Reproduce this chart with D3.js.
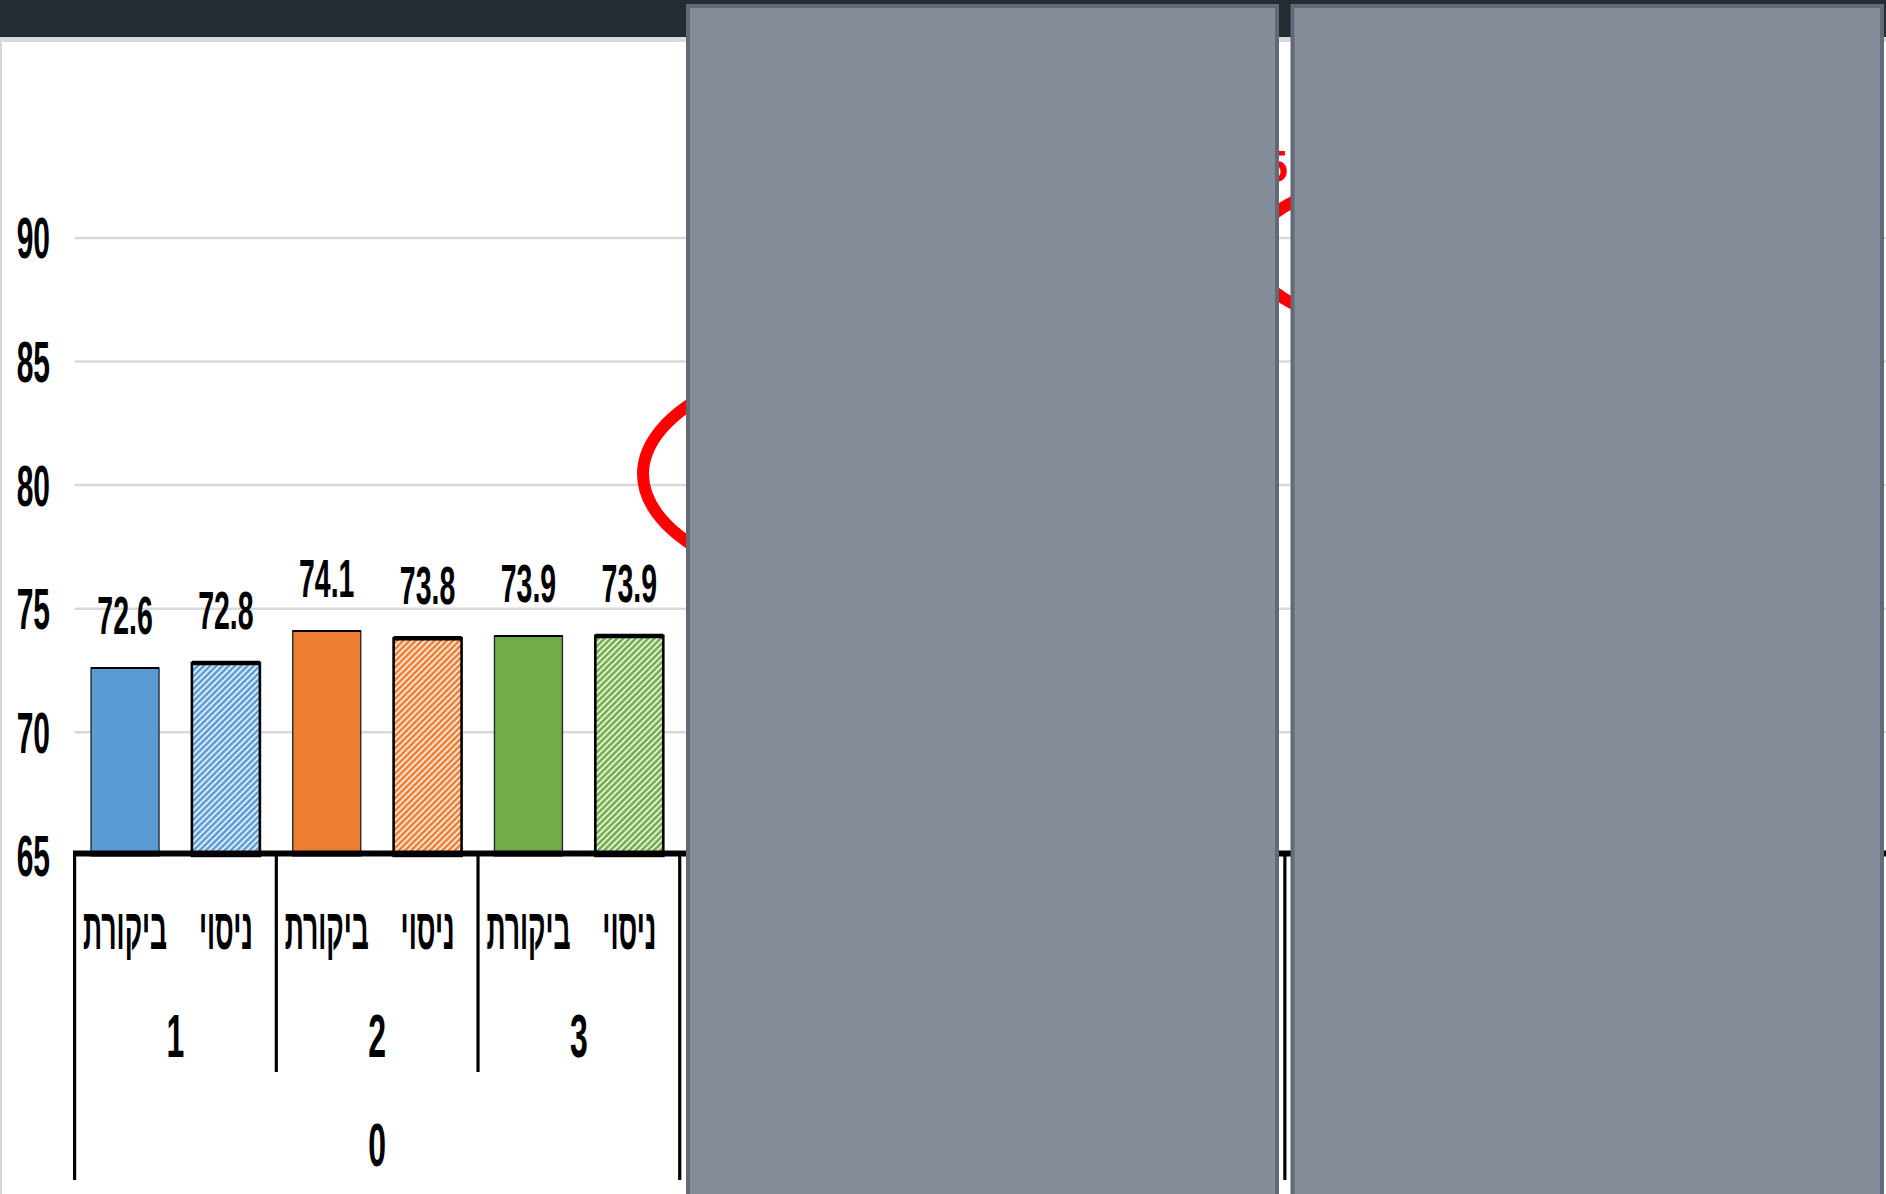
<!DOCTYPE html>
<html>
<head>
<meta charset="utf-8">
<script src="https://cdn.jsdelivr.net/npm/d3@7"></script>
<style>
  html, body { margin: 0; padding: 0; background: #fff; }
  svg { display: block; }
  .lbl { font-family: "Liberation Sans Narrow", "Arial Narrow", "Liberation Sans", sans-serif; font-weight: bold; fill: #000; }
</style>
</head>
<body>
<div id="app"></div>
<script>
// values
const outerLabels = ["0"];
const groupLabels = ["1", "2", "3"];
const seriesLabels = ["ביקורת", "ניסוי"];
const control = [72.6, 74.1, 73.9];
const experiment = [72.8, 73.8, 73.9];
const groupColors = ["#5B9BD5", "#ED7D31", "#70AD47"];
const yTicks = [65, 70, 75, 80, 85, 90];

const w = 1886;
const h = 1194;
const stretch = 1.9; // the screenshot is stretched vertically

// flatten into bars: per group, control then experiment
const bars = [];
groupLabels.forEach(function (g, i) {
  bars.push({ group: i, series: 0, value: control[i] });
  bars.push({ group: i, series: 1, value: experiment[i] });
});

const svg = d3.select("#app")
  .append("svg")
  .attr("width", w)
  .attr("height", h);

const defs = svg.append("defs");
groupColors.forEach(function (c, i) {
  const p = defs.append("pattern")
    .attr("id", "hatch" + i)
    .attr("patternUnits", "userSpaceOnUse")
    .attr("width", 4.4)
    .attr("height", 4.4)
    .attr("patternTransform", "rotate(45)");
  p.append("rect").attr("width", 4.4).attr("height", 4.4).attr("fill", c);
  p.append("line")
    .attr("x1", 1.2).attr("y1", 0).attr("x2", 1.2).attr("y2", 4.4)
    .attr("stroke", "#fff").attr("stroke-width", 1.6);
});

// header strip of the screenshot
svg.append("rect").attr("x", 0).attr("y", 0).attr("width", w).attr("height", 37).attr("fill", "#232b33");
svg.append("rect").attr("x", 0).attr("y", 37).attr("width", w).attr("height", 5).attr("fill", "#dadada");
svg.append("rect").attr("x", 0).attr("y", 42).attr("width", 2).attr("height", h - 42).attr("fill", "#d6d6d6");

const nSlots = 18; // 3 outer groups x 3 groups x 2 bars
const x = d3.scaleBand()
  .domain(d3.range(nSlots))
  .range([74.6, 1890])
  .paddingInner(0.326)
  .paddingOuter(0.163);
const step = x.step();
const edge = function (k) { return 74.6 + k * step; };

const y = d3.scaleLinear()
  .domain([65, 90])
  .range([855.9, 237.9]);

// gridlines
svg.append("g")
  .selectAll("line")
  .data(yTicks.slice(1))
  .enter()
  .append("line")
  .attr("x1", 74.6)
  .attr("x2", w)
  .attr("y1", function (d) { return y(d); })
  .attr("y2", function (d) { return y(d); })
  .attr("stroke", "#d9d9d9")
  .attr("stroke-width", 2.5);

// y tick labels
const tickSize = 30;
svg.append("g")
  .selectAll("text")
  .data(yTicks)
  .enter()
  .append("text")
  .attr("class", "lbl")
  .attr("text-anchor", "end")
  .attr("font-size", tickSize)
  .attr("transform", function (d) {
    return "translate(50," + (y(d) + 0.716 * tickSize * stretch / 2) + ") scale(1," + stretch + ")";
  })
  .text(function (d) { return d; });

// bars
const slot = function (d) { return d.group * 2 + d.series; };
svg.append("g")
  .selectAll("rect")
  .data(bars)
  .enter()
  .append("rect")
  .attr("x", function (d) { return x(slot(d)); })
  .attr("y", function (d) { return y(d.value); })
  .attr("width", x.bandwidth())
  .attr("height", function (d) { return y(65) - y(d.value); })
  .attr("fill", function (d) {
    return d.series === 0 ? groupColors[d.group] : "url(#hatch" + d.group + ")";
  })
  .attr("stroke", function (d) { return d.series === 0 ? "#2a2a2a" : "#000"; })
  .attr("stroke-width", function (d) { return d.series === 0 ? 1.4 : 2.6; });

// thicker top edge on bars
svg.append("g")
  .selectAll("line")
  .data(bars)
  .enter()
  .append("line")
  .attr("x1", function (d) { return x(slot(d)); })
  .attr("x2", function (d) { return x(slot(d)) + x.bandwidth(); })
  .attr("y1", function (d) { return y(d.value); })
  .attr("y2", function (d) { return y(d.value); })
  .attr("stroke", "#000")
  .attr("stroke-width", function (d) { return d.series === 0 ? 2 : 4.5; });

// value labels
svg.append("g")
  .selectAll("text")
  .data(bars)
  .enter()
  .append("text")
  .attr("class", "lbl")
  .attr("text-anchor", "middle")
  .attr("font-size", 28.5)
  .attr("transform", function (d) {
    return "translate(" + (x(slot(d)) + x.bandwidth() / 2) + "," + (y(d.value) - 34) + ") scale(1," + stretch + ")";
  })
  .text(function (d) { return d.value.toFixed(1); });

// category axis: baseline and separators
svg.append("line")
  .attr("x1", 73).attr("x2", w)
  .attr("y1", y(65) - 2.5).attr("y2", y(65) - 2.5)
  .attr("stroke", "#000").attr("stroke-width", 6);

const seps = d3.range(0, nSlots + 1, 2);
svg.append("g")
  .selectAll("line")
  .data(seps)
  .enter()
  .append("line")
  .attr("x1", function (k) { return edge(k); })
  .attr("x2", function (k) { return edge(k); })
  .attr("y1", y(65))
  .attr("y2", function (k) { return k % 6 === 0 ? 1180 : 1072; })
  .attr("stroke", "#000")
  .attr("stroke-width", 3.2);

// series labels (hebrew, squeezed to the narrow look)
const seriesWidths = [84, 54];
svg.append("g")
  .selectAll("text")
  .data(bars)
  .enter()
  .append("text")
  .attr("class", "lbl")
  .attr("text-anchor", "middle")
  .attr("font-size", 30)
  .attr("textLength", function (d) { return seriesWidths[d.series]; })
  .attr("lengthAdjust", "spacingAndGlyphs")
  .attr("transform", function (d) {
    return "translate(" + (x(slot(d)) + x.bandwidth() / 2) + ",949) scale(1," + stretch + ")";
  })
  .text(function (d) { return seriesLabels[d.series]; });

// group number labels
svg.append("g")
  .selectAll("text")
  .data(groupLabels)
  .enter()
  .append("text")
  .attr("class", "lbl")
  .attr("text-anchor", "middle")
  .attr("font-size", 32)
  .attr("transform", function (d, i) {
    return "translate(" + (edge(i * 2) + step) + ",1057) scale(1," + stretch + ")";
  })
  .text(function (d) { return d; });

// outer label
svg.append("g")
  .selectAll("text")
  .data(outerLabels)
  .enter()
  .append("text")
  .attr("class", "lbl")
  .attr("text-anchor", "middle")
  .attr("font-size", 32)
  .attr("transform", function (d, i) {
    return "translate(" + (edge(i * 6) + 3 * step) + ",1166) scale(1," + stretch + ")";
  })
  .text(function (d) { return d; });

// red annotations (mostly hidden by the panels)
svg.append("ellipse")
  .attr("cx", 906).attr("cy", y(80.45))
  .attr("rx", 263).attr("ry", 122)
  .attr("fill", "none").attr("stroke", "#ff0000").attr("stroke-width", 12);
svg.append("ellipse")
  .attr("cx", 1450).attr("cy", y(89.4))
  .attr("rx", 200).attr("ry", 82)
  .attr("fill", "none").attr("stroke", "#ff0000").attr("stroke-width", 12);
svg.append("text")
  .attr("x", 1288).attr("y", 182)
  .attr("text-anchor", "end")
  .attr("font-family", "Liberation Sans, sans-serif")
  .attr("font-weight", "bold")
  .attr("font-size", 44)
  .attr("fill", "#ff0000")
  .text("5");

// grey cover panels
const panels = [
  { x: 686, w: 593 },
  { x: 1290.5, w: 593.5 }
];
svg.append("g")
  .selectAll("rect")
  .data(panels)
  .enter()
  .append("rect")
  .attr("x", function (d) { return d.x + 2; })
  .attr("y", 6)
  .attr("width", function (d) { return d.w - 4; })
  .attr("height", h)
  .attr("fill", "#858d9b")
  .attr("stroke", "#636a77")
  .attr("stroke-width", 4);
</script>
</body>
</html>
